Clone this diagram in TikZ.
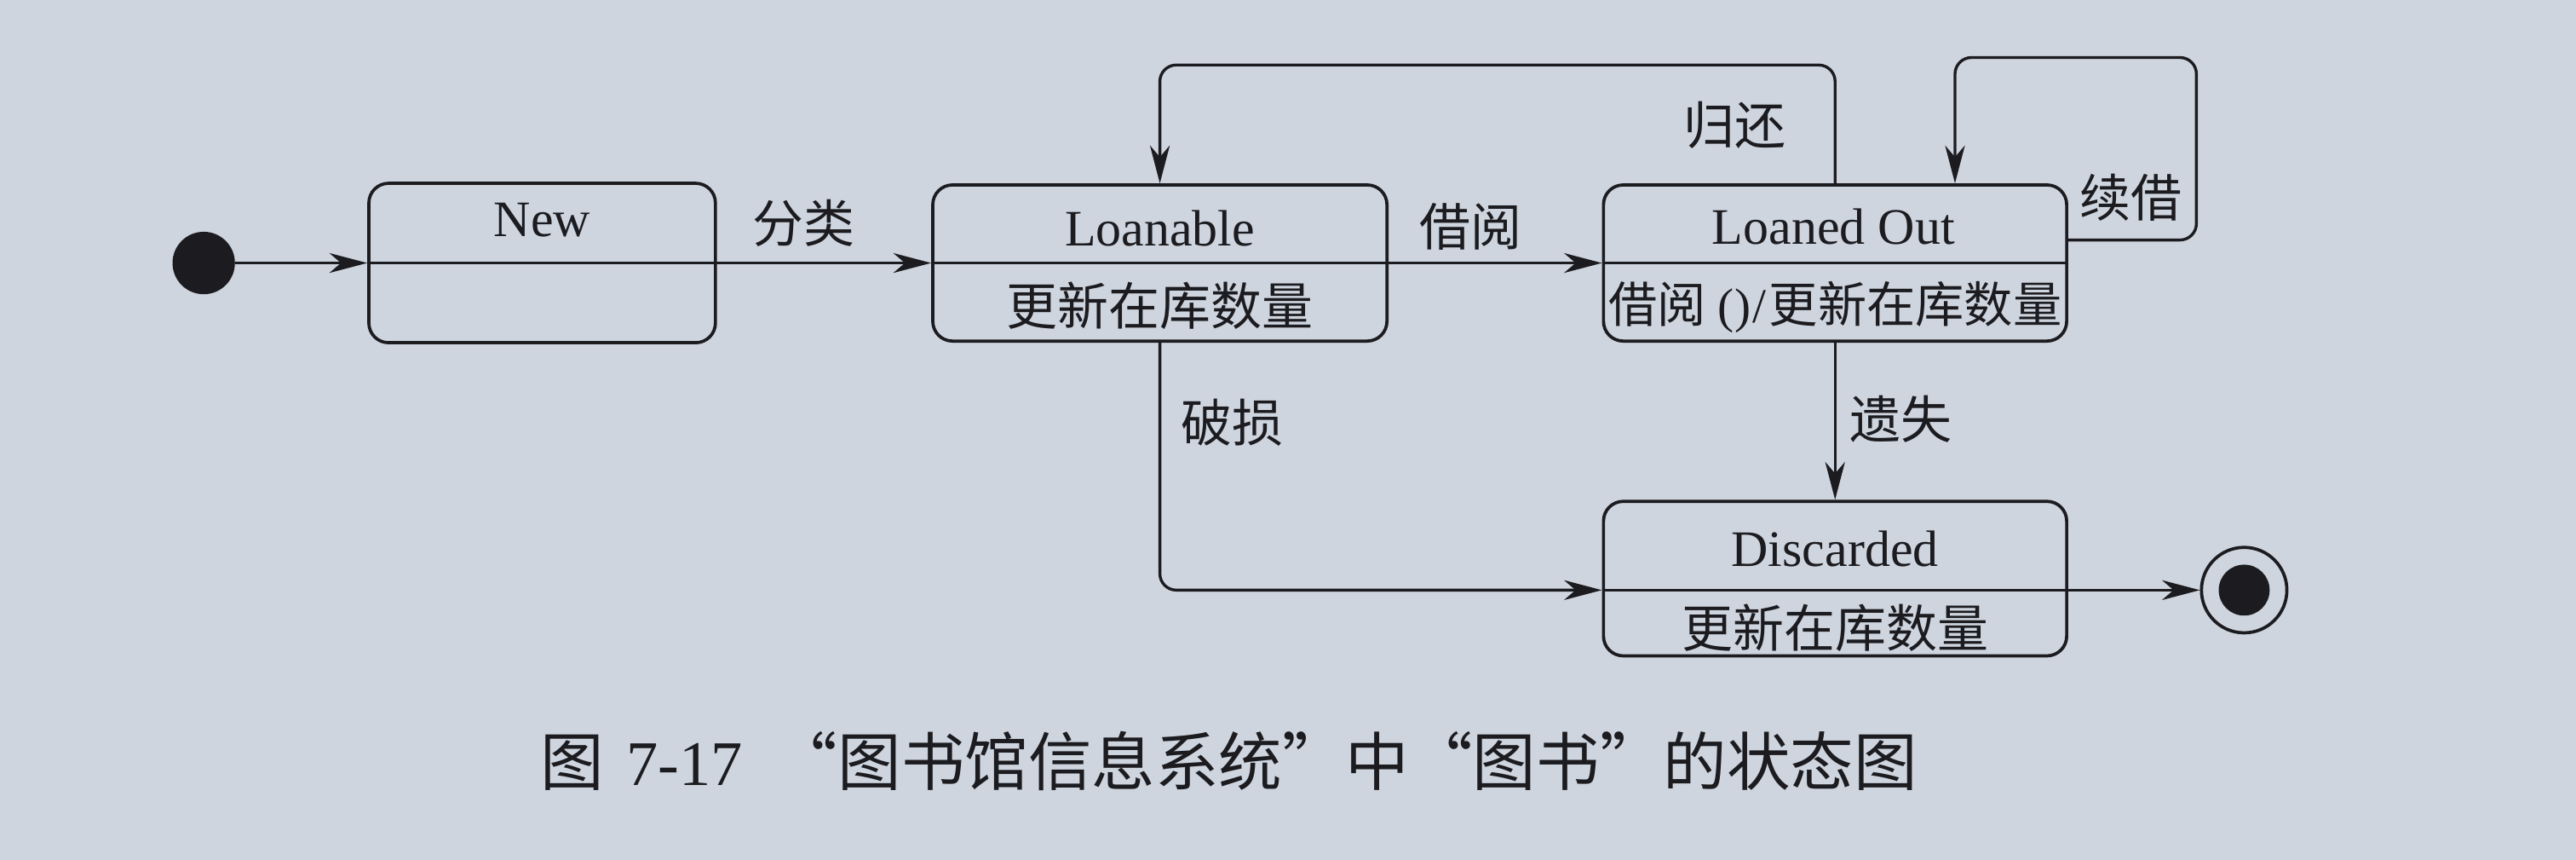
\documentclass[tikz,border=0pt]{standalone}
\usepackage{fontspec}
\setmainfont{Liberation Serif}
\newfontfamily\cjk{Noto Sans CJK SC}
\usetikzlibrary{arrows.meta,calc}
\definecolor{paper}{RGB}{206,213,223}
\definecolor{ink}{RGB}{28,28,32}
\newcommand{\bxsize}{\fontsize{17.7pt}{20pt}\selectfont}
\newcommand{\smbxsize}{\fontsize{16.9pt}{19pt}\selectfont}
\newcommand{\capsize}{\fontsize{22pt}{24pt}\selectfont}
\tikzset{
  statebox/.style={draw=ink, line width=1.1pt, rounded corners=0.24cm, inner sep=0pt, minimum height=1.9cm},
  conn/.style={draw=ink, line width=1pt},
  arr/.style={conn, -{Stealth[length=0.46cm, width=0.24cm, inset=0.14cm]}},
  lattext/.style={font=\bxsize, text=ink, inner sep=0pt},
  cjktext/.style={font=\bxsize\cjk, text=ink, inner sep=0pt},
}
\begin{document}
\begin{tikzpicture}[x=0.02cm, y=-0.02cm]
\useasboundingbox (0,0) rectangle (1568,523);
\fill[paper] (0,0) rectangle (1568,523);

% states
\node[circle, fill=ink, minimum size=0.76cm, inner sep=0pt] (init) at (124,160) {};
\node[statebox, minimum width=4.22cm, minimum height=1.94cm] (new) at (330,160) {};
\node[statebox, minimum width=5.53cm] (loan) at (706,160) {};
\node[statebox, minimum width=5.64cm] (out) at (1117,160) {};
\node[statebox, minimum width=5.64cm, minimum height=1.88cm] (disc) at (1117,352) {};
\node[circle, draw=ink, line width=1.1pt, minimum size=1.04cm, inner sep=0pt] (final) at (1366,359) {};
\node[circle, fill=ink, minimum size=0.62cm, inner sep=0pt] (finaldot) at (final.center) {};

% dividers
\draw[conn] (new.west) -- (new.east);
\draw[conn] (loan.west) -- (loan.east);
\draw[conn] (out.west) -- (out.east);
\coordinate (dw) at ($(disc.west)+(0,7)$);
\coordinate (de) at ($(disc.east)+(0,7)$);
\draw[conn] (dw) -- (de);

% state texts
\node[lattext] (tnew) at (330,134) {New};
\node[lattext] (tloan) at (706,139) {Loanable};
\node[cjktext] (tloan2) at (706,186) {更新在库数量};
\node[lattext] (tout) at (1116,138) {Loaned Out};
\node[lattext, font=\smbxsize] (tout2) at (1117,187) {{\cjk 借阅}\kern0.25em()\kern0.05em/\kern0.05em{\cjk 更新在库数量}};
\node[lattext] (tdisc) at (1117,334) {Discarded};
\node[cjktext] (tdisc2) at (1117,382) {更新在库数量};

% transitions
\draw[arr] (init) -- (new.west);
\draw[arr] (new.east) -- (loan.west);
\draw[arr] (loan.east) -- (out.west);
\draw[arr, rounded corners=0.2cm] (out.north) -- ++(0,-72) -| (loan.north);
\draw[arr, rounded corners=0.2cm] ([yshift=0.28cm]out.east) -- ++(78,0) -- ++(0,-111) -| ([xshift=1.46cm]out.north);
\draw[arr] (out.south) -- (disc.north);
\draw[arr, rounded corners=0.2cm] (loan.south) |- (dw);
\draw[arr] (de) -- (final);

% transition labels
\node[cjktext] (l1) at (489,136) {分类};
\node[cjktext] (l2) at (895,138) {借阅};
\node[cjktext] (l3) at (1056,76) {归还};
\node[cjktext] (l4) at (1297,120) {续借};
\node[cjktext] (l5) at (1157,255) {遗失};
\node[cjktext] (l6) at (750,257) {破损};

% caption
\node[font=\capsize\cjk, text=ink, inner sep=0pt] (cap) at (748,463)
  {图\hspace{0.35em}{\rmfamily 7-17}\hspace{0.5em}\makebox[1em][r]{“}图书馆信息系统\makebox[1em][l]{”}中\makebox[1em][r]{“}图书\makebox[1em][l]{”}的状态图};
\end{tikzpicture}
\end{document}
